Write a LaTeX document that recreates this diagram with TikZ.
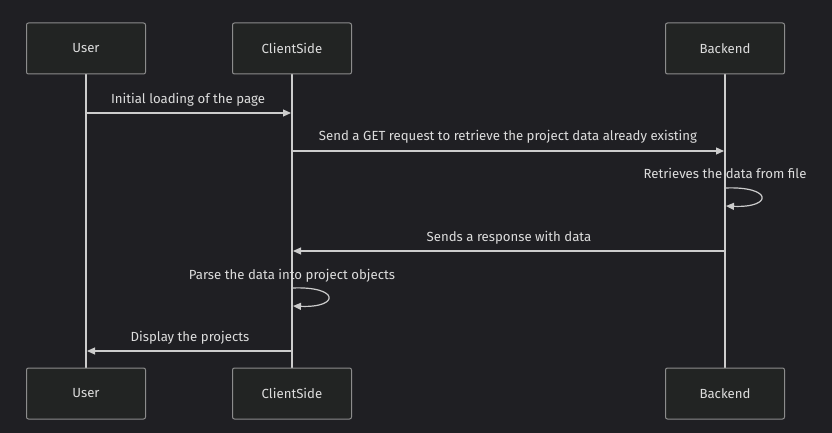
\documentclass[tikz,border=0pt]{standalone}
\usepackage{fontspec}
\setmainfont{Fira Sans}
\usetikzlibrary{arrows.meta}
\definecolor{bg}{HTML}{1F1F23}
\definecolor{boxfill}{HTML}{222423}
\definecolor{boxline}{HTML}{8C8C8C}
\definecolor{linecol}{HTML}{CCCCCC}
\definecolor{txt}{HTML}{DDDDDD}
\tikzset{
  actor/.style={draw=boxline, fill=boxfill, line width=1pt, rounded corners=2pt,
    minimum width=119pt, minimum height=51pt, inner sep=0pt, text=txt, font=\fontsize{13.2}{15}\selectfont},
  life/.style={draw=linecol, line width=1.2pt},
  msg/.style={draw=linecol, line width=1.2pt, -{Triangle[length=8pt,width=7pt]}},
  lbl/.style={text=txt, font=\fontsize{13.2}{15}\selectfont, inner sep=0pt, anchor=base},
}
\begin{document}
\begin{tikzpicture}[x=1pt,y=-1pt]
\fill[bg] (0,0) rectangle (832,433);
\useasboundingbox (0,0) rectangle (832,433);
% lifelines
\coordinate (u0) at (86,74); \coordinate (u1) at (86,368);
\coordinate (c0) at (292,74); \coordinate (c1) at (292,368);
\coordinate (b0) at (725,74); \coordinate (b1) at (725,368);
\draw[life] (u0) -- (u1);
\draw[life] (c0) -- (c1);
\draw[life] (b0) -- (b1);
% actors
\node[actor] (userT) at (86,48.5) {User};
\node[actor] (clientT) at (292,48.5) {ClientSide};
\node[actor] (backT) at (725,48.5) {Backend};
\node[actor] (userB) at (86,393.5) {User};
\node[actor] (clientB) at (292,393.5) {ClientSide};
\node[actor] (backB) at (725,393.5) {Backend};
% message 1
\coordinate (m1a) at (86,113); \coordinate (m1b) at (291,113);
\draw[msg] (m1a) -- (m1b);
\node[lbl] (l1) at (188,103) {Initial loading of the page};
% message 2
\coordinate (m2a) at (292,151); \coordinate (m2b) at (724,151);
\draw[msg] (m2a) -- (m2b);
\node[lbl] (l2) at (508,140) {Send a GET request to retrieve the project data already existing};
% self loop backend
\node[lbl] (l3) at (725,178) {Retrieves the data from file};
\coordinate (s1a) at (725,188); \coordinate (s1b) at (726,206);
\draw[msg] (s1a) .. controls (773,186) and (773,208) .. (s1b);
% message 3
\coordinate (m3a) at (725,251); \coordinate (m3b) at (293,251);
\draw[msg] (m3a) -- (m3b);
\node[lbl] (l4) at (509,241) {Sends a response with data};
% self loop client
\node[lbl] (l5) at (292,279) {Parse the data into project objects};
\coordinate (s2a) at (292,288); \coordinate (s2b) at (293,306);
\draw[msg] (s2a) .. controls (340,286) and (340,308) .. (s2b);
% message 4
\coordinate (m4a) at (292,351); \coordinate (m4b) at (87,351);
\draw[msg] (m4a) -- (m4b);
\node[lbl] (l6) at (190,341) {Display the projects};
\end{tikzpicture}
\end{document}
